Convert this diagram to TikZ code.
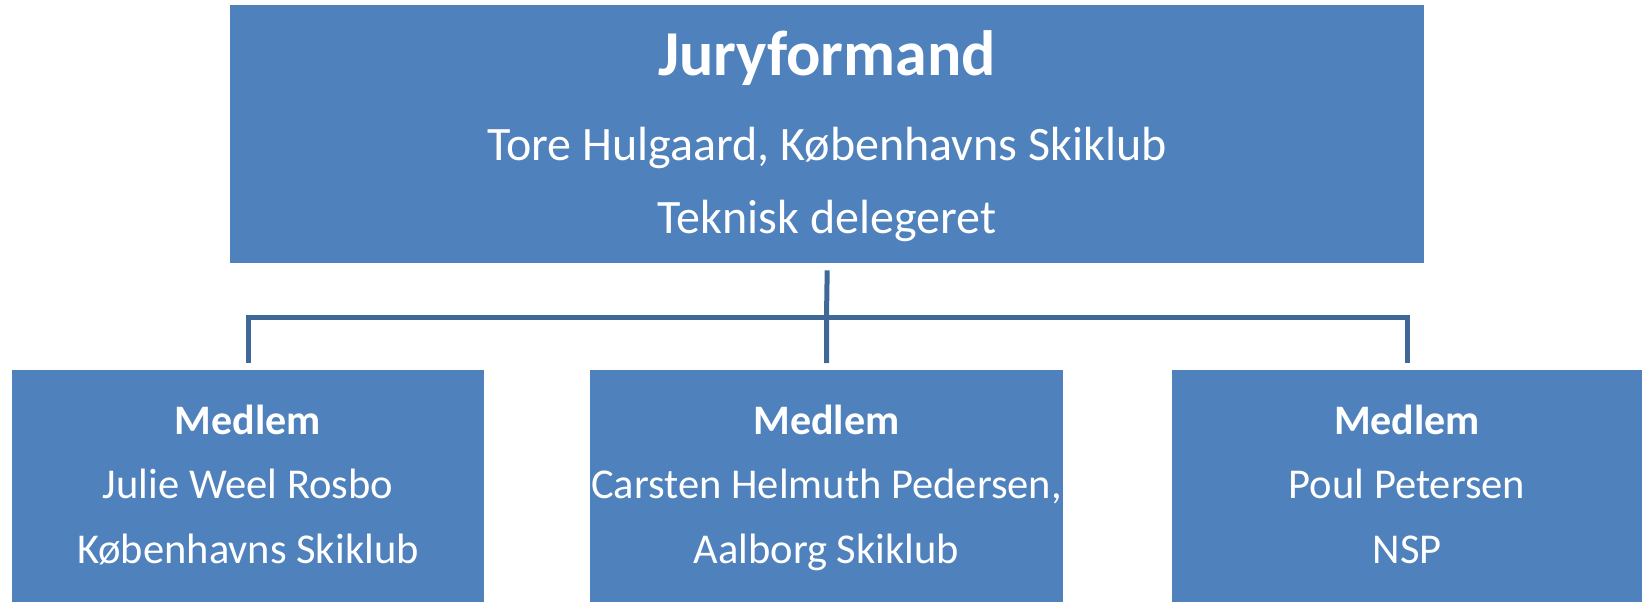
\documentclass[tikz,border=0pt]{standalone}
\usepackage{fontspec}
\setmainfont{Carlito}
\definecolor{boxblue}{HTML}{4F81BD}
\definecolor{lineblue}{HTML}{3F6797}
\begin{document}
\begin{tikzpicture}[x=1pt,y=-1pt,
  box/.style={rectangle, fill=boxblue, draw=none, inner sep=0pt, anchor=north west},
  conn/.style={draw=lineblue, line width=5pt, line join=miter},
  txt/.style={anchor=base, inner sep=0pt, text=white},
  big/.style={txt, font=\bfseries\fontsize{64}{64}\selectfont},
  topline/.style={txt, font=\fontsize{48}{48}\selectfont},
  mhead/.style={txt, font=\bfseries\fontsize{42}{42}\selectfont},
  mline/.style={txt, font=\fontsize{42.5}{42.5}\selectfont}]
\useasboundingbox (0,0) rectangle (1647,602);

\node[box, minimum width=1194pt, minimum height=258pt] (top) at (230,5) {};
\node[box, minimum width=472pt, minimum height=232pt] (m1) at (12,370) {};
\node[box, minimum width=473pt, minimum height=232pt] (m2) at (590,370) {};
\node[box, minimum width=470pt, minimum height=232pt] (m3) at (1172,370) {};

\node[big] (t1) at (827,76) {Juryformand};
\node[topline] (t2) at (827,160) {Tore Hulgaard, Københavns Skiklub};
\node[topline] (t3) at (827,233) {Teknisk delegeret};

\node[mhead] (a1) at (248,434) {Medlem};
\node[mline] (a2) at (248,498) {Julie Weel Rosbo};
\node[mline] (a3) at (248,563) {Københavns Skiklub};

\node[mhead] (b1) at (826.5,434) {Medlem};
\node[mline] (b2) at (826.5,498) {Carsten Helmuth Pedersen,};
\node[mline] (b3) at (826.5,563) {Aalborg Skiklub};

\node[mhead] (c1) at (1407,434) {Medlem};
\node[mline] (c2) at (1407,498) {Poul Petersen};
\node[mline] (c3) at (1407,563) {NSP};

\coordinate (bus) at (826.5,317);
\draw[conn] ([yshift=-7pt]top.south) -- (bus);
\draw[conn] ([yshift=7pt]m1.north) |- (bus) -| ([yshift=7pt]m3.north);
\draw[conn] (bus) -- ([yshift=7pt]m2.north);
\end{tikzpicture}
\end{document}
